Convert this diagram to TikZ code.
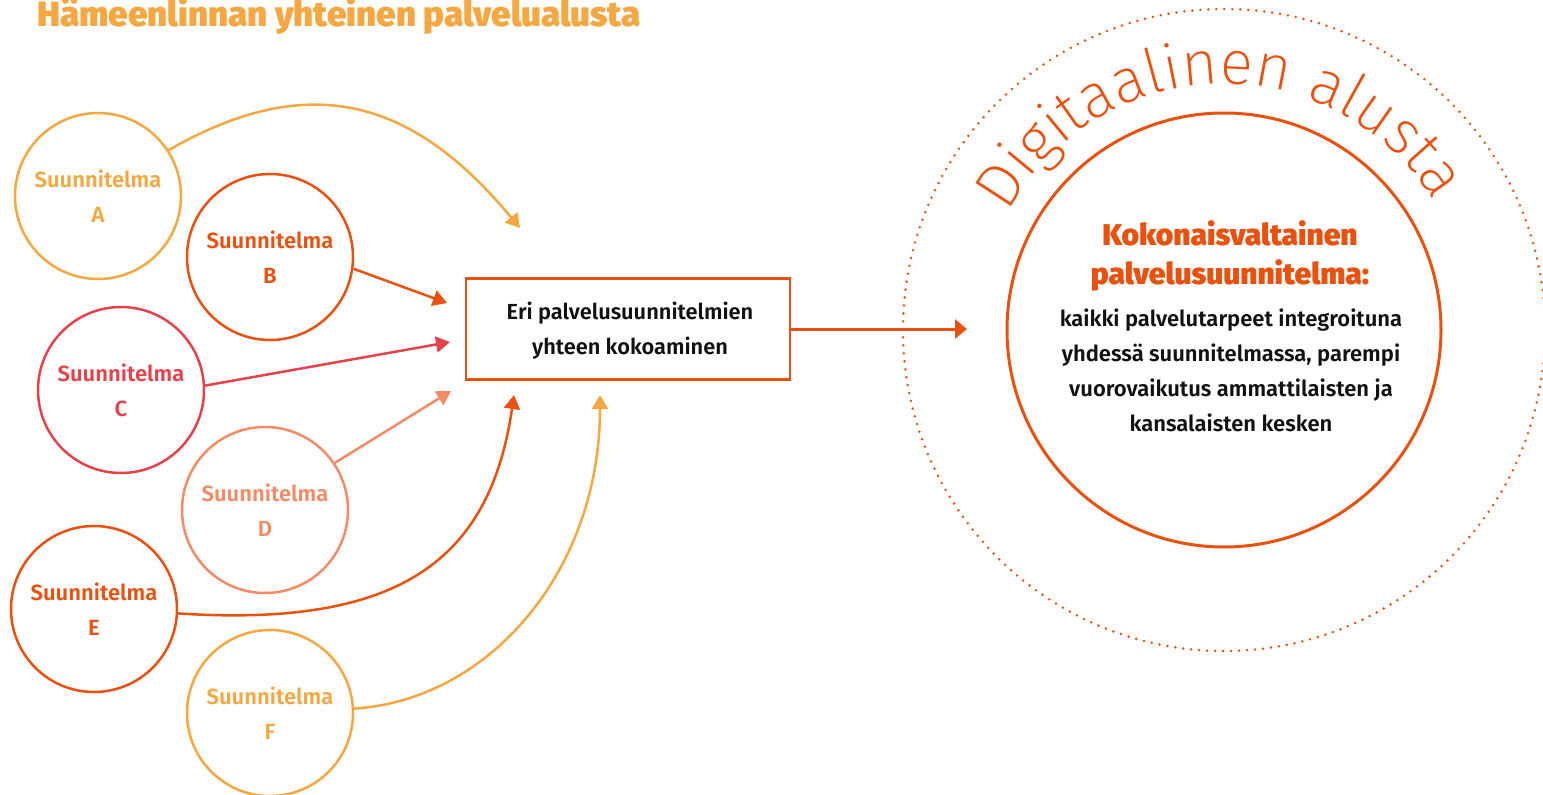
\documentclass[tikz,border=0pt]{standalone}
\usepackage{fontspec}
\setmainfont{Fira Sans SemiBold}
\newfontfamily\fsb{Fira Sans SemiBold}
\IfFontExistsTF{Fira Sans ExtraLight}
  {\newfontfamily\flight{Fira Sans ExtraLight}}
  {\newfontfamily\flight{Fira Sans Light}}
\IfFontExistsTF{Fira Sans Black}
  {\newfontfamily\fheavy{Fira Sans Black}}
  {\IfFontExistsTF{Fira Sans ExtraBold}
    {\newfontfamily\fheavy{Fira Sans ExtraBold}}
    {\newfontfamily\fheavy{Fira Sans}[FakeBold=2,UprightFont=* Bold]}}
\usetikzlibrary{arrows.meta,decorations.text}
\definecolor{cA}{HTML}{F5A742}
\definecolor{cB}{HTML}{E9510F}
\definecolor{cC}{HTML}{E4434B}
\definecolor{cD}{HTML}{F28B66}
\definecolor{cT}{HTML}{111111}
\tikzset{
  plan/.style={circle, draw=#1, text=#1, line width=2.5pt, minimum size=166pt, inner sep=0pt,
    align=center, font=\fsb\fontsize{22}{35}\selectfont},
  conn/.style={draw=#1, line width=2.5pt, -{Triangle[length=14pt,width=16pt]}},
}
\begin{document}
\begin{tikzpicture}[x=1pt,y=-1pt]
\useasboundingbox (0,0) rectangle (1543,795);
% title
\node[anchor=base west, inner sep=0pt, text=cA, font=\fheavy\fontsize{35}{35}\selectfont] (title) at (37,26) {Hämeenlinnan yhteinen palvelualusta};
% circles
\node[plan=cA] (A) at (98,196) {Suunnitelma\\A};
\node[plan=cB] (B) at (270,257) {Suunnitelma\\B};
\node[plan=cC] (C) at (121,390) {Suunnitelma\\C};
\node[plan=cD] (D) at (265,510) {Suunnitelma\\D};
\node[plan=cB] (E) at (94,609) {Suunnitelma\\E};
\node[plan=cA] (F) at (270,713) {Suunnitelma\\F};
% central box
\node[draw=cB, line width=2.5pt, minimum width=324pt, minimum height=101pt, inner sep=0pt, text=cT] (box) at (628,329) {};
\node[align=center, inner sep=0pt, text=cT, anchor=base, font=\fsb\fontsize{21.8}{35}\selectfont] (boxt) at (630,354) {Eri palvelusuunnitelmien\\yhteen kokoaminen};
% tips
\coordinate (tA) at (520,228);
\coordinate (tB) at (447,303);
\coordinate (tC) at (450,342);
\coordinate (tD) at (451,391);
\coordinate (tE) at (514,395);
\coordinate (tF) at (600,395);
\draw[conn=cA] (A.33) .. controls (323,61) and (424,113) .. (tA);
\draw[conn=cB] (B.-8) -- (tB);
\draw[conn=cC] (C.3) -- (tC);
\draw[conn=cD] (D.34) -- (tD);
\draw[conn=cB] (E.-3) .. controls (400,628) and (490,560) .. (tE);
\draw[conn=cA] (F.3.5) .. controls (490,700) and (600,570) .. (tF);
% right side
\node[circle, draw=cB, line width=2.8pt, dash pattern=on 0pt off 8pt, line cap=round, minimum size=642pt, inner sep=0pt] (dig) at (1224,330) {};
\node[circle, draw=cB, line width=3pt, minimum size=434pt, inner sep=0pt] (K) at (1224,330) {};
\coordinate (tR) at (967,329);
\draw[draw=cB, line width=3pt, -{Triangle[length=12pt,width=19pt]}] (box.east) -- (tR);
\path[decorate, decoration={text along path, text align=center,
  text={|\flight\fontsize{62}{62}\selectfont\color{cB}|Digitaalinen alusta}}]
  (K.center) ++(178.5:246) arc[start angle=178.5, end angle=358.5, radius=246];
\node[text=cB, align=center, inner sep=0pt, font=\fheavy\fontsize{30}{39}\selectfont, anchor=base] (Kt) at (1230,284) {Kokonaisvaltainen\\palvelusuunnitelma:};
\node[text=cT, align=center, inner sep=0pt, font=\fsb\fontsize{22}{34.7}\selectfont, anchor=base] (Kb) at (1231,431) {kaikki palvelutarpeet integroituna\\yhdessä suunnitelmassa, parempi\\vuorovaikutus ammattilaisten ja\\kansalaisten kesken};
\end{tikzpicture}
\end{document}
